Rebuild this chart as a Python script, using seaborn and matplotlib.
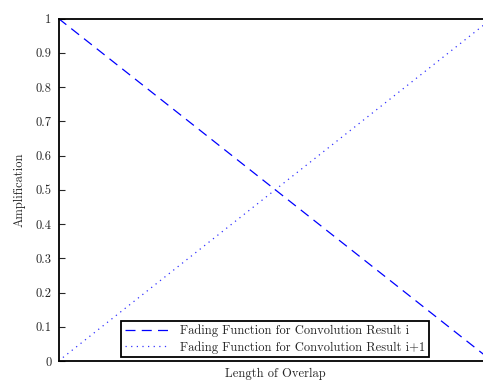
import matplotlib
matplotlib.use("Agg")
import matplotlib.pyplot as plt
import seaborn as sns
import pandas as pd

overlap = [0.0, 1.0]
fade_out = [1.0, 0.0]
fade_in = [0.0, 1.0]
labels = ["Fading Function for Convolution Result i",
          "Fading Function for Convolution Result i+1"]
yticks = [0, 0.1, 0.2, 0.3, 0.4, 0.5, 0.6, 0.7, 0.8, 0.9, 1]

sns.set_style("ticks")
plt.rcParams["font.family"] = ["cmr10"]
plt.rcParams["axes.formatter.use_mathtext"] = True
plt.rcParams["mathtext.fontset"] = "cm"

df = pd.DataFrame({"x": overlap * 2,
                   "y": fade_out + fade_in,
                   "series": [labels[0]] * 2 + [labels[1]] * 2})

fig = plt.figure(figsize=(4.83, 3.80), dpi=100)
ax = fig.add_axes([58.5 / 483, 1 - 361 / 380, (492 - 58.5) / 483, (361 - 18.5) / 380])

sns.lineplot(data=df[df.series == labels[0]], x="x", y="y", ax=ax,
             color="#0000ff", lw=0.9, dashes=False, label=labels[0])
sns.lineplot(data=df[df.series == labels[1]], x="x", y="y", ax=ax,
             color="#0000ff", lw=0.9, dashes=False, label=labels[1])
ax.lines[0].set_dashes([8, 5])
ax.lines[1].set_linestyle((0, (1, 3.5)))
ax.lines[1].set_alpha(0.8)

ax.set_xlim(0, 1)
ax.set_ylim(0, 1)
ax.set_xticks([])
ax.set_yticks(yticks)
ax.set_yticklabels([f"{t:g}" for t in yticks])
ax.tick_params(axis="y", direction="in", length=4, width=0.8, labelsize=9,
               pad=5, right=True)
for s in ax.spines.values():
    s.set_linewidth(1.3)
    s.set_color("black")

ax.set_xlabel("Length of Overlap", fontsize=9, labelpad=5)
ax.set_ylabel("Amplification", fontsize=9, labelpad=7)

leg = ax.legend(loc="lower center", fontsize=9, frameon=True, fancybox=False,
                borderpad=0.3, handlelength=3.6, labelspacing=0.3,
                borderaxespad=0.3)
leg.get_frame().set_edgecolor("black")
leg.get_frame().set_linewidth(1.3)
leg.get_frame().set_alpha(1)

fig.savefig("out.png", dpi=100)
